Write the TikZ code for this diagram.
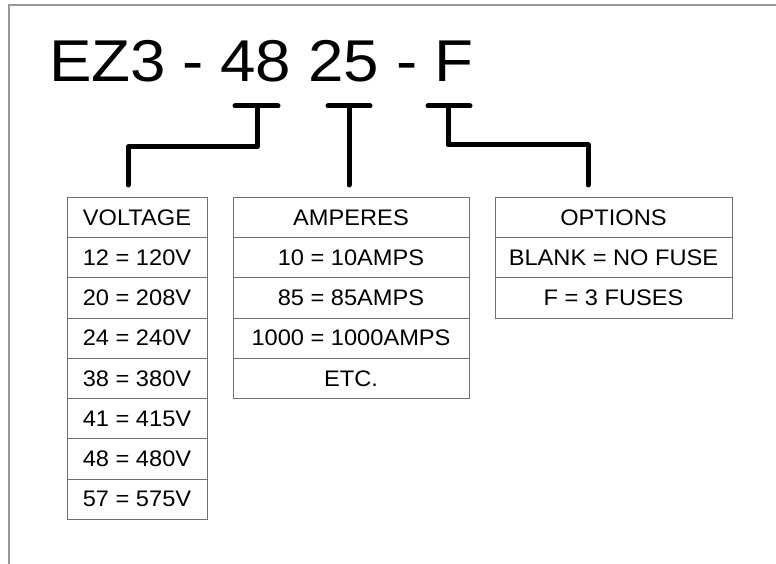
\documentclass[tikz,border=0pt]{standalone}
\usepackage{fontspec}
\setmainfont{Liberation Sans}
\definecolor{gridgray}{HTML}{EDEDED}
\definecolor{framegray}{HTML}{999999}
\definecolor{cellgray}{HTML}{707070}
\newcommand{\wtitle}[1]{\scalebox{1.08}[1]{#1}}
\newcommand{\wcell}[1]{\scalebox{1.05}[1]{#1}}
\begin{document}
\begin{tikzpicture}[x=1pt,y=-1pt,
  cellbox/.style={draw=cellgray,line width=1pt,minimum height=40.25pt,inner sep=0pt,outer sep=0pt,font=\fontsize{22.5}{22.5}\selectfont,anchor=center},
  vcell/.style={cellbox,minimum width=140pt},
  acell/.style={cellbox,minimum width=236pt},
  ocell/.style={cellbox,minimum width=237pt},
  titletok/.style={font=\fontsize{59}{59}\selectfont,anchor=base,inner sep=0pt},
  tbar/.style={line width=5pt,line cap=round,line join=round,black}]
\useasboundingbox (0,0) rectangle (776,564);
\fill[white] (0,0) rectangle (776,564);
% faint dotted grid
\foreach \i in {1,...,38}{\foreach \j in {1,...,27}{
  \fill[gridgray] ({9+20*\i-0.5},{6+20*\j-0.5}) rectangle ++(1,1);}}
% frame
\draw[framegray,line width=1.5pt] (9,564) -- (9,5) -- (776,5);
% title
\node[titletok] (tEZ) at (107.5,82) {\wtitle{EZ3}};
\node[titletok] (tD1) at (193.5,82) {\wtitle{-}};
\node[titletok] (t48) at (256,82) {\wtitle{48}};
\node[titletok] (t25) at (344,82) {\wtitle{25}};
\node[titletok] (tD2) at (407.5,82) {\wtitle{-}};
\node[titletok] (tF) at (454,82) {\wtitle{F}};
% bar coordinates
\coordinate (b1l) at (235,106); \coordinate (b1r) at (278,106); \coordinate (b1m) at (257,106);
\coordinate (b2l) at (328,106); \coordinate (b2r) at (370,106); \coordinate (b2m) at (349,106);
\coordinate (b3l) at (428,106); \coordinate (b3r) at (470,106); \coordinate (b3m) at (448,106);
% voltage table
\foreach \t [count=\k from 0] in {VOLTAGE,12 = 120V,20 = 208V,24 = 240V,38 = 380V,41 = 415V,48 = 480V,57 = 575V}{
  \node[vcell] (v\k) at (137,{217.5+40.25*\k}) {\wcell{\t}};}
% amperes table
\foreach \t [count=\k from 0] in {AMPERES,10 = 10AMPS,85 = 85AMPS,1000 = 1000AMPS,ETC.}{
  \node[acell] (a\k) at (351,{217.5+40.25*\k}) {\wcell{\t}};}
% options table
\foreach \t [count=\k from 0] in {OPTIONS,BLANK = NO FUSE,F = 3 FUSES}{
  \node[ocell] (o\k) at (613.5,{217.5+40.25*\k}) {\wcell{\t}};}
% connectors
\coordinate (v0top) at (128,185);
\coordinate (a0top) at (349,185);
\coordinate (o0top) at (588,185);
\draw[tbar] (b1l) -- (b1r);
\draw[tbar] (b1m) |- (128,147) -- (v0top);
\draw[tbar] (b2l) -- (b2r);
\draw[tbar] (b2m) -- (a0top);
\draw[tbar] (b3l) -- (b3r);
\draw[tbar] (b3m) |- (588,145) -- (o0top);
\end{tikzpicture}
\end{document}
